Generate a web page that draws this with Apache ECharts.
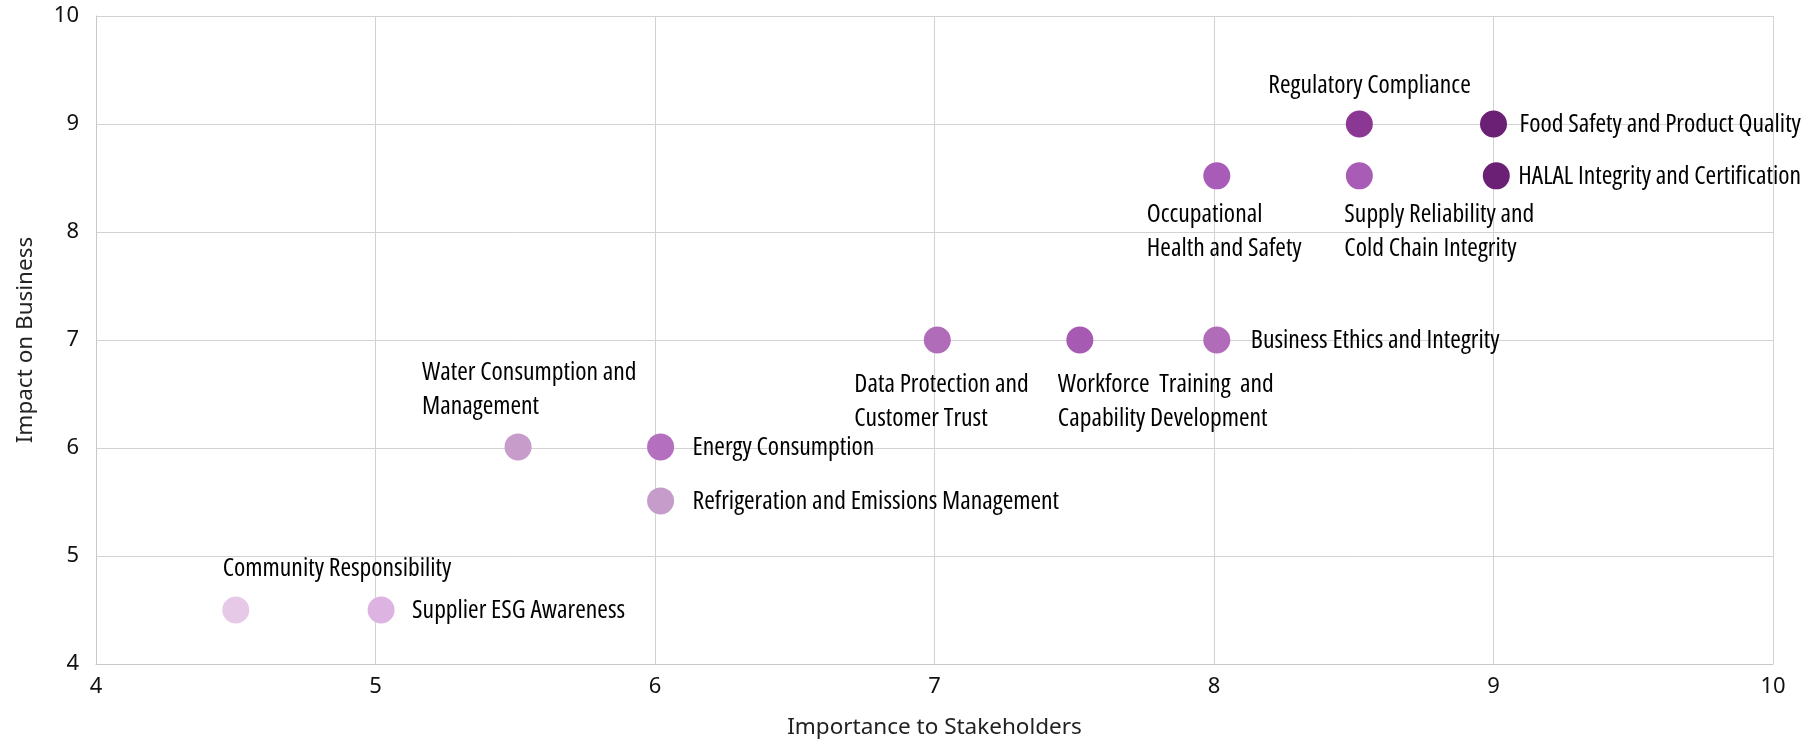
<!DOCTYPE html>
<html><head><meta charset="utf-8">
<script src="https://cdn.jsdelivr.net/npm/echarts@6/dist/echarts.min.js"></script>
<style>html,body{margin:0;padding:0;background:#fff}#c{width:1813px;height:744px}</style>
</head><body><div id="c"></div>
<script>
var names = ['Regulatory Compliance','Food Safety and Product Quality','HALAL Integrity and Certification','Occupational\nHealth and Safety','Supply Reliability and\nCold Chain Integrity','Data Protection and\nCustomer Trust','Workforce  Training  and\nCapability Development','Business Ethics and Integrity','Water Consumption and\nManagement','Energy Consumption','Refrigeration and Emissions Management','Community Responsibility','Supplier ESG Awareness'];
var importance = [8.52, 9.0, 9.01, 8.01, 8.52, 7.01, 7.52, 8.01, 5.51, 6.02, 6.02, 4.5, 5.02];
var impact = [9.0, 9.0, 8.52, 8.52, 8.52, 7.0, 7.0, 7.0, 6.01, 6.01, 5.51, 4.5, 4.5];
var xTicks = [4,5,6,7,8,9,10];
var yTicks = [4,5,6,7,8,9,10];

var colors = ['#8a3894','#6b1f75','#6b1f75','#a85cb7','#a85cb5','#b06cb9','#a65ab2','#b06cb9','#c79ccb','#b56fbf','#c69ccb','#e5c9e7','#ddb3e2'];
var labelOffsets = [[-91,-38],[26,1],[22,1],[-70,56],[-15,56],[-83,62],[-22,62],[34,1],[-96,-57],[32,1],[32,1],[-13,-41],[31,1]];

var labelFont = {fontFamily:'Open Sans', fontStyle:'condensed', fontSize:25.6, color:'#000', lineHeight:34};
var tickFont = {fontFamily:'Noto Sans', fontSize:22, color:'#111'};
var nameFont = {fontFamily:'Noto Sans', fontSize:22.5, color:'#222'};

var chart = echarts.init(document.getElementById('c'));
var data = names.map(function(n,i){
  return {
    value:[importance[i], impact[i]], name:n,
    itemStyle:{color:colors[i], opacity:1},
    label:{show:true, position:'inside', align:'left', verticalAlign:'middle', offset:labelOffsets[i], formatter:n}
  };
});
chart.setOption({
  animation:false,
  grid:{left:96,right:40,top:16,bottom:75},
  xAxis:{type:'value',min:xTicks[0],max:xTicks[xTicks.length-1],interval:1,
    name:'Importance to Stakeholders',nameLocation:'middle',nameGap:52,
    nameTextStyle:nameFont,
    axisLine:{show:true,lineStyle:{color:'#c8c8c8'}},axisTick:{show:false},
    axisLabel:Object.assign({margin:12},tickFont),
    splitLine:{show:true,lineStyle:{color:'#d2d2d2'}}},
  yAxis:{type:'value',min:yTicks[0],max:yTicks[yTicks.length-1],interval:1,
    name:'Impact on Business',nameLocation:'middle',nameGap:59,
    nameTextStyle:nameFont,
    axisLine:{show:true,lineStyle:{color:'#c8c8c8'}},axisTick:{show:false},
    axisLabel:Object.assign({margin:17},tickFont),
    splitLine:{show:true,lineStyle:{color:'#d2d2d2'}}},
  series:[{type:'scatter',symbolSize:27,data:data,
    label:labelFont}]
});
</script></body></html>
